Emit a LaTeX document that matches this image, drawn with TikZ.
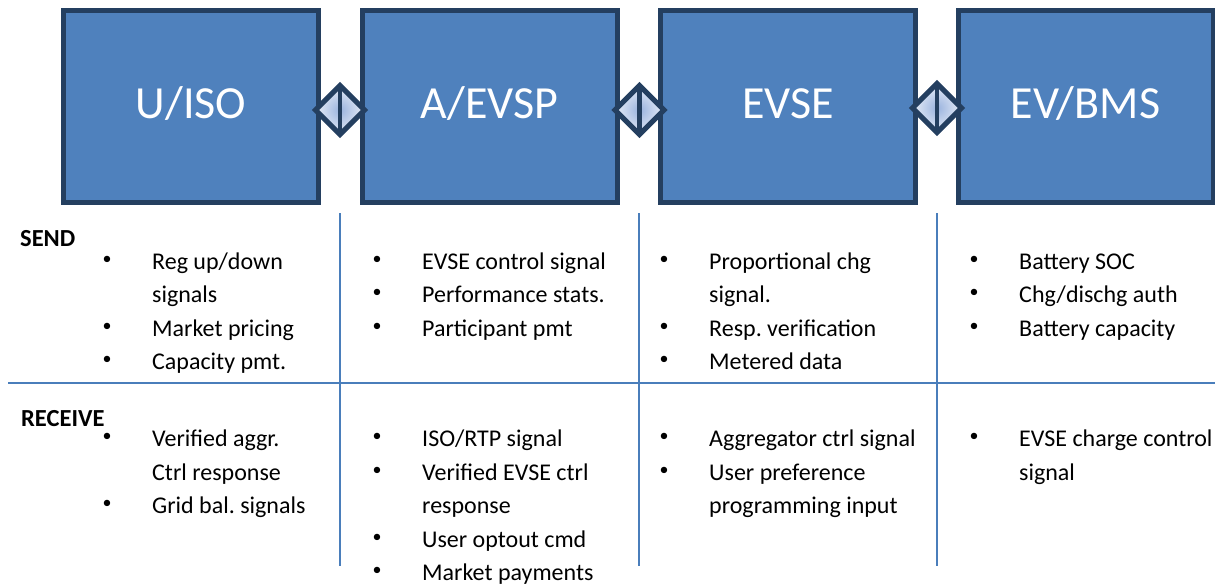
\documentclass[tikz,border=0pt]{standalone}
\usepackage{fontspec}
\setmainfont{Carlito}
\usetikzlibrary{shapes.geometric}
\frenchspacing
\definecolor{boxfill}{HTML}{4F81BD}
\definecolor{boxline}{HTML}{243F60}
\definecolor{gridline}{HTML}{4A7EBB}
\definecolor{dmdin}{HTML}{9AB3DE}
\definecolor{dmdout}{HTML}{E6ECF7}
\tikzset{
  box/.style={draw=boxline, fill=boxfill, line width=5pt, minimum width=255pt,
    minimum height=192pt, inner sep=0pt, text=white,
    font=\fontsize{46}{50}\selectfont, text height=23pt, text depth=0pt},
  link/.style={diamond, draw=boxline, line width=5pt, minimum width=49pt,
    minimum height=49pt, inner sep=0pt, outer sep=0pt,
    inner color=dmdin, outer color=dmdout},
  linkbar/.style={draw=boxline, line width=4.5pt},
  txt/.style={anchor=base west, inner sep=0pt, font=\fontsize{24}{29}\selectfont},
  bul/.style={anchor=center, inner sep=0pt, font=\fontsize{18}{20}\selectfont},
  head/.style={anchor=base west, inner sep=0pt, font=\fontsize{24.5}{29}\selectfont\bfseries},
  gridrule/.style={draw=gridline, line width=2pt}
}
% #1 name, #2 bullet x, #3 text x, #4 baseline y, #5 text
\newcommand\bitem[5]{\node[bul] (#1b) at (#2,#4-9) {•}; \node[txt] (#1) at (#3,#4) {#5};}
\newcommand\plainline[4]{\node[txt] (#1) at (#2,#3) {#4};}
\begin{document}
\begin{tikzpicture}[x=1pt,y=-1pt]
\useasboundingbox (0,0) rectangle (1215,586);
% boxes
\node[box] (uiso)  at (191,106.5)    {U/ISO};
\node[box] (aevsp) at (489.5,106.5)  {A/EVSP};
\node[box] (evse)  at (788,106.5)    {EVSE};
\node[box] (evbms) at (1085.5,106.5) {EV/BMS};
% diamond connectors
\node[link] (l1) at (340,110) {};
\node[link] (l2) at (639.5,110) {};
\node[link] (l3) at (937,108) {};
\draw[linkbar] (l1.north) -- (l1.south);
\draw[linkbar] (l2.north) -- (l2.south);
\draw[linkbar] (l3.north) -- (l3.south);
% table rules
\coordinate (hL) at (8,383);
\coordinate (hR) at (1215,383);
\coordinate (v1t) at (340,213);   \coordinate (v1b) at (340,566);
\coordinate (v2t) at (638.5,213); \coordinate (v2b) at (638.5,566);
\coordinate (v3t) at (937,213);   \coordinate (v3b) at (937,566);
\draw[gridrule] (hL) -- (hR);
\draw[gridrule] (v1t) -- (v1b);
\draw[gridrule] (v2t) -- (v2b);
\draw[gridrule] (v3t) -- (v3b);
% headings
\node[head] (send) at (20,246) {SEND};
\node[head] (recv) at (21,426) {RECEIVE};
% column 1
\bitem{a1}{107}{152}{269}{Reg up/down}
\plainline{a2}{152}{302.5}{signals}
\bitem{a3}{107}{152}{336}{Market pricing}
\bitem{a4}{107}{152}{369.5}{Capacity pmt.}
\bitem{a5}{107}{152}{446.7}{Verified aggr.}
\plainline{a6}{152}{480}{Ctrl response}
\bitem{a7}{107}{152}{513.5}{Grid bal. signals}
% column 2
\bitem{b1}{377}{422}{269}{EVSE control signal}
\bitem{b2}{377}{422}{302.5}{Performance stats.}
\bitem{b3}{377}{422}{336}{Participant pmt}
\bitem{b4}{377}{422}{446.7}{ISO/RTP signal}
\bitem{b5}{377}{422}{480}{Verified EVSE ctrl}
\plainline{b6}{422}{513.5}{response}
\bitem{b7}{377}{422}{547}{User optout cmd}
\bitem{b8}{377}{422}{580.5}{Market payments}
% column 3
\bitem{c1}{664}{709}{269}{Proportional chg}
\plainline{c2}{709}{302.5}{signal.}
\bitem{c3}{664}{709}{336}{Resp. verification}
\bitem{c4}{664}{709}{369.5}{Metered data}
\bitem{c5}{664}{709}{446.7}{Aggregator ctrl signal}
\bitem{c6}{664}{709}{480}{User preference}
\plainline{c7}{709}{513.5}{programming input}
% column 4
\bitem{d1}{974}{1019}{269}{Battery SOC}
\bitem{d2}{974}{1019}{302.5}{Chg/dischg auth}
\bitem{d3}{974}{1019}{336}{Battery capacity}
\bitem{d4}{974}{1019}{446.7}{EVSE charge control}
\plainline{d5}{1019}{480}{signal}
\end{tikzpicture}
\end{document}
